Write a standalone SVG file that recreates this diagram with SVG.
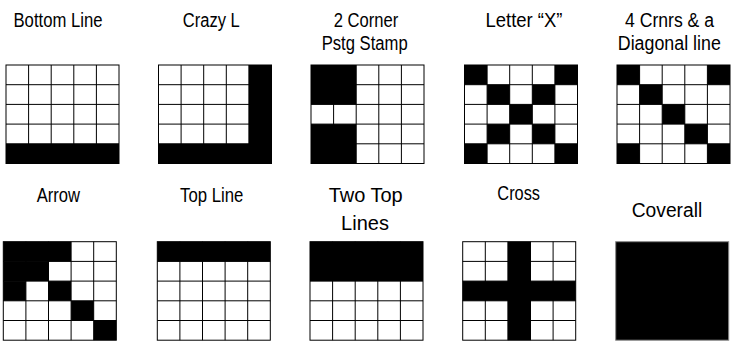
<svg xmlns="http://www.w3.org/2000/svg" xmlns:xlink="http://www.w3.org/1999/xlink" width="741" height="341" viewBox="0 0 741 341">
<style>
.lbl{font-family:"Liberation Sans Narrow","Arial Narrow","Liberation Sans",Arial,sans-serif;font-size:20px;fill:#000;text-anchor:middle}
.lblw{font-family:"Liberation Sans",Arial,sans-serif;font-size:20px;fill:#000;text-anchor:middle}
.blk{fill:#000}
.gl{fill:none;stroke:#000;stroke-width:1}
</style>
<defs>
<g id="grid"><rect class="gl" x="0" y="0" width="113" height="98.5"/><path class="gl" d="M22.6 0V98.5M45.2 0V98.5M67.8 0V98.5M90.4 0V98.5M0 19.7H113M0 39.4H113M0 59.1H113M0 78.8H113"/></g>
<rect id="c" width="22.6" height="19.7" class="blk"/>
</defs>
<rect width="741" height="341" fill="#fff"/>

<g id="bottom-line">
<text class="lbl" x="58" y="26.5" textLength="89" lengthAdjust="spacingAndGlyphs">Bottom Line</text>
<g transform="translate(6,65)"><rect class="blk" x="0" y="78.8" width="113" height="19.7"/><use xlink:href="#grid"/></g>
</g>

<g id="crazy-l">
<text class="lbl" x="211.3" y="26.5" textLength="57" lengthAdjust="spacingAndGlyphs">Crazy L</text>
<g transform="translate(158.5,65)"><rect class="blk" x="90.4" y="0" width="22.6" height="98.5"/><rect class="blk" x="0" y="78.8" width="113" height="19.7"/><use xlink:href="#grid"/></g>
</g>

<g id="two-corner-stamp">
<text class="lbl" x="366" y="26.5" textLength="64.5" lengthAdjust="spacingAndGlyphs">2 Corner</text>
<text class="lbl" x="364.7" y="50" textLength="86" lengthAdjust="spacingAndGlyphs">Pstg Stamp</text>
<g transform="translate(311,65)"><rect class="blk" x="0" y="0" width="45.2" height="39.4"/><rect class="blk" x="0" y="59.1" width="45.2" height="39.4"/><use xlink:href="#grid"/></g>
</g>

<g id="letter-x">
<text class="lbl" x="524" y="26.5" textLength="77" lengthAdjust="spacingAndGlyphs">Letter “X”</text>
<g transform="translate(464.5,65)">
<use xlink:href="#c" x="0" y="0"/><use xlink:href="#c" x="90.4" y="0"/>
<use xlink:href="#c" x="22.6" y="19.7"/><use xlink:href="#c" x="67.8" y="19.7"/>
<use xlink:href="#c" x="45.2" y="39.4"/>
<use xlink:href="#c" x="22.6" y="59.1"/><use xlink:href="#c" x="67.8" y="59.1"/>
<use xlink:href="#c" x="0" y="78.8"/><use xlink:href="#c" x="90.4" y="78.8"/>
<use xlink:href="#grid"/></g>
</g>

<g id="corners-diagonal">
<text class="lbl" x="669.5" y="26.5" textLength="89" lengthAdjust="spacingAndGlyphs">4 Crnrs &amp; a</text>
<text class="lbl" x="669.3" y="50" textLength="103" lengthAdjust="spacingAndGlyphs">Diagonal line</text>
<g transform="translate(617,65)">
<use xlink:href="#c" x="0" y="0"/><use xlink:href="#c" x="90.4" y="0"/>
<use xlink:href="#c" x="22.6" y="19.7"/>
<use xlink:href="#c" x="45.2" y="39.4"/>
<use xlink:href="#c" x="67.8" y="59.1"/>
<use xlink:href="#c" x="0" y="78.8"/><use xlink:href="#c" x="90.4" y="78.8"/>
<use xlink:href="#grid"/></g>
</g>

<g id="arrow">
<text class="lbl" x="58.3" y="202" textLength="43.3" lengthAdjust="spacingAndGlyphs">Arrow</text>
<g transform="translate(3.3,241.7)">
<rect class="blk" x="0" y="0" width="67.8" height="19.7"/>
<rect class="blk" x="0" y="19.7" width="45.2" height="19.7"/>
<use xlink:href="#c" x="0" y="39.4"/>
<use xlink:href="#c" x="45.2" y="39.4"/>
<use xlink:href="#c" x="67.8" y="59.1"/>
<use xlink:href="#c" x="90.4" y="78.8"/>
<use xlink:href="#grid"/></g>
</g>

<g id="top-line">
<text class="lbl" x="211.7" y="202" textLength="63.3" lengthAdjust="spacingAndGlyphs">Top Line</text>
<g transform="translate(157.3,241.7)"><rect class="blk" x="0" y="0" width="113" height="19.7"/><use xlink:href="#grid"/></g>
</g>

<g id="two-top-lines">
<text class="lblw" x="365.7" y="202">Two Top</text>
<text class="lblw" x="365" y="230">Lines</text>
<g transform="translate(310,241.7)"><rect class="blk" x="0" y="0" width="113" height="39.4"/><use xlink:href="#grid"/></g>
</g>

<g id="cross">
<text class="lbl" x="518.7" y="200" textLength="42.7" lengthAdjust="spacingAndGlyphs">Cross</text>
<g transform="translate(462.7,241.7)"><rect class="blk" x="45.2" y="0" width="22.6" height="98.5"/><rect class="blk" x="0" y="39.4" width="113" height="19.7"/><use xlink:href="#grid"/></g>
</g>

<g id="coverall">
<text class="lbl" x="667" y="217.3" textLength="70.6" lengthAdjust="spacingAndGlyphs">Coverall</text>
<g transform="translate(615.7,241.7)"><rect x="0" y="0" width="113" height="98.5" fill="#000" stroke="#888" stroke-width="1"/></g>
</g>
</svg>
